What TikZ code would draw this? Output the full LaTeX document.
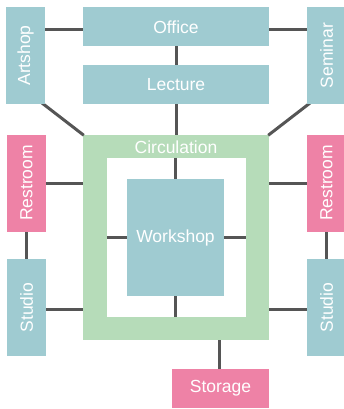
\documentclass[tikz,border=0pt]{standalone}
\usepackage{fontspec}
\setmainfont{Liberation Sans}
\usetikzlibrary{calc,backgrounds}
\definecolor{roomteal}{HTML}{9FCBD1}
\definecolor{roompink}{HTML}{EE82A6}
\definecolor{circgreen}{HTML}{B6DCB9}
\definecolor{linkgray}{HTML}{555555}
\begin{document}
\begin{tikzpicture}[x=1pt,y=-1pt,
  room/.style={draw=none, inner sep=0pt, text=white,
    font=\fontsize{17.5}{19}\selectfont},
  teal/.style={room, fill=roomteal},
  pink/.style={room, fill=roompink},
  wide/.style={minimum width=186pt, minimum height=39pt},
  tall/.style={minimum width=97pt, minimum height=39pt, rotate=90},
  link/.style={draw=linkgray, line width=3pt}]
\useasboundingbox (0,0) rectangle (344,409);

% rooms
\node[teal, wide] (office) at (176,27) {Office};
\node[teal, wide] (lecture) at (176,84.5) {Lecture};
\node[teal, tall] (artshop) at (25.5,55.5) {Artshop};
\node[teal, tall] (seminar) at (326.5,55.5) {Seminar};
\node[pink, tall] (restl) at (26.5,183) {Restroom};
\node[pink, tall] (restr) at (326.5,183) {Restroom};
\node[teal, tall] (studiol) at (26.5,307.5) {Studio};
\node[teal, tall] (studior) at (326.5,307.5) {Studio};
\node[teal, minimum width=97pt, minimum height=117pt] (workshop) at (175.5,237.5) {Workshop};
\node[pink, minimum width=97pt, minimum height=39pt] (storage) at (220.5,388.5) {Storage};

\begin{scope}[on background layer]
% circulation ring: green outer block with white inner field
\node[room, fill=circgreen, minimum width=186pt, minimum height=205pt] (circ) at (176,237.5) {};
\node[room, fill=white, minimum width=139pt, minimum height=159pt] (circin) at (176.5,237.5) {};
\node[room] (circlabel) at (176,147) {Circulation};

% connectors, kept behind the rooms
\draw[link] ([yshift=-3pt]office.west) -- ([yshift=-3pt]office.west -| artshop.center);
\draw[link] ([yshift=-3pt]office.east) -- ([yshift=-3pt]office.east -| seminar.center);
\draw[link] (office.center) -- (lecture.center);
\draw[link] (lecture.center) -- (lecture.center |- circ.north);
\draw[link] ($(artshop.center)+(14.5,46)$) -- ([shift={(1pt,-0.5pt)}]circ.north west);
\draw[link] ($(seminar.center)+(-14.5,46)$) -- ([shift={(-1pt,-0.5pt)}]circ.north east);
\draw[link] (restl.center) -- (restl.center -| circ.west);
\draw[link] (restr.center) -- (restr.center -| circ.east);
\draw[link] (restl.center) -- (studiol.center);
\draw[link] (restr.center) -- (studior.center);
\draw[link] ([yshift=-1.5pt]studiol.center) -- ([yshift=-1.5pt]studiol.center -| circ.west);
\draw[link] ([yshift=-1.5pt]studior.center) -- ([yshift=-1.5pt]studior.center -| circ.east);
\draw[link] (workshop.center |- circin.north) -- (workshop.center |- circin.south);
\draw[link] (circin.west |- workshop.center) -- (circin.east |- workshop.center);
\draw[link] ([xshift=-1.5pt]storage.center) -- ([xshift=-1.5pt]storage.center |- circ.south);
\end{scope}
\end{tikzpicture}
\end{document}
